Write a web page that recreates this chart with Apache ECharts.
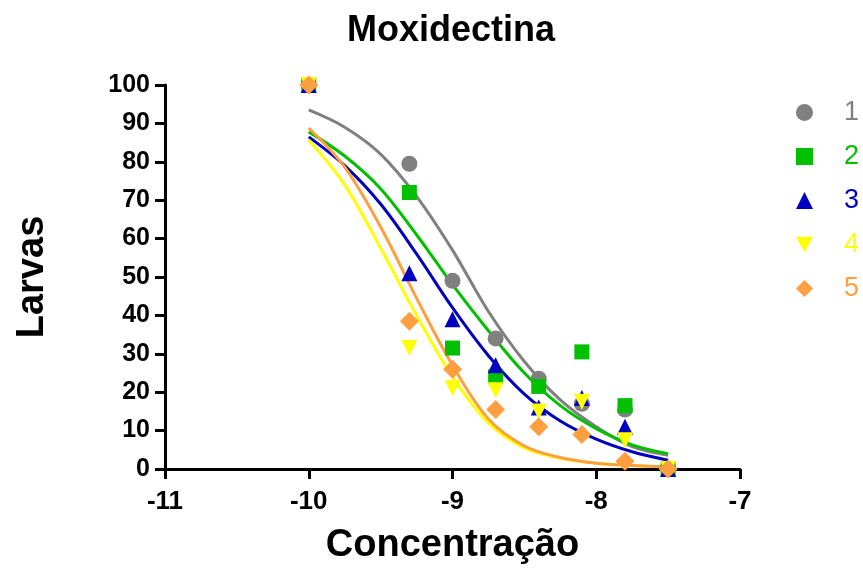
<!DOCTYPE html>
<html lang="pt">
<head>
    <meta charset="UTF-8">
    <title>Moxidectina</title>
    <script src="https://cdn.jsdelivr.net/npm/echarts@6/dist/echarts.min.js"></script>
    <style>
        *{margin:0;padding:0;box-sizing:border-box;}
        html,body{width:863px;height:572px;background:#fff;}
        #main{width:863px;height:572px;}
    </style>
</head>
<body>
<div id="main"></div>
<script>
    // concentrações (log M) dos pontos
    var doses = [-10, -9.3, -9, -8.7, -8.4, -8.1, -7.8, -7.5];
    // larvas (%) por réplica
    var rep1 = [100, 79.5, 49, 34, 23.5, 17, 15.5, 0];
    var rep2 = [100, 72, 31.5, 24, 21.5, 30.5, 16.5, 0];
    var rep3 = [100, 51, 39, 27, 16, 18.5, 11, 0];
    var rep4 = [100, 31.5, 21, 20.5, 15, 17.5, 7.5, 0];
    var rep5 = [100, 38.5, 26, 15.5, 11, 9, 2, 0];

    // curvas ajustadas
    var curveX = [-10, -9.75, -9.5, -9.25, -9, -8.75, -8.5, -8.25, -8, -7.75, -7.5];
    var fit1 = [93.5, 89, 82, 71, 57, 41, 28, 18, 11, 5.8, 3.6];
    var fit2 = [87.8, 81.5, 73, 61, 48, 36, 25, 16.5, 10.5, 6.3, 4];
    var fit3 = [86.5, 79, 69, 56, 42, 29.5, 19.5, 12.5, 7.8, 4.5, 2.3];
    var fit4 = [85.7, 74, 57.5, 40, 24, 12, 5.5, 2.8, 1.5, 0.9, 0.5];
    var fit5 = [88.8, 78.6, 63, 44.5, 27, 13, 6, 3, 1.5, 0.9, 0.5];

    var names = ['1', '2', '3', '4', '5'];
    var colors = ['#808080', '#00c000', '#0000c0', '#ffff00', '#ff9f40'];
    var symbols = ['circle', 'rect', 'triangle', 'path://M0,0 L10,0 L5,9 Z', 'diamond'];
    var sizes = [16, 15, 16, 16, 19];

    var reps = [rep1, rep2, rep3, rep4, rep5];
    var fits = [fit1, fit2, fit3, fit4, fit5];

    function pairs(xs, ys){
        return xs.map(function(x, i){ return [x, ys[i]]; });
    }

    var series = [];
    fits.forEach(function(f, i){
        series.push({
            type: 'line',
            data: pairs(curveX, f),
            smooth: 0.35,
            showSymbol: false,
            silent: true,
            lineStyle: {color: colors[i], width: 3},
            z: 2
        });
    });
    reps.forEach(function(r, i){
        series.push({
            type: 'scatter',
            name: names[i],
            data: pairs(doses, r),
            symbol: symbols[i],
            symbolSize: sizes[i],
            itemStyle: {color: colors[i], opacity: 1},
            z: 3 + i
        });
    });

    var font = '"Liberation Sans", Arial, sans-serif';
    var chart = echarts.init(document.getElementById('main'));
    chart.setOption({
        animation: false,
        title: {
            text: 'Moxidectina',
            left: 342,
            top: 8,
            textStyle: {fontFamily: font, fontSize: 36, fontWeight: 'bold', color: '#000'}
        },
        legend: {
            orient: 'vertical',
            left: 791,
            top: 94,
            itemWidth: 17,
            itemHeight: 17,
            itemGap: 17,
            data: names.map(function(n, i){
                return {name: n, textStyle: {color: colors[i]}};
            }),
            textStyle: {fontFamily: font, fontSize: 27, padding: [0, 0, 0, 26]}
        },
        grid: {left: 165, right: 123, top: 85, bottom: 103},
        xAxis: {
            type: 'value',
            min: -11, max: -7, interval: 1,
            name: 'Concentração',
            nameLocation: 'middle',
            nameGap: 58,
            nameTextStyle: {fontFamily: font, fontSize: 38, fontWeight: 'bold', color: '#000'},
            axisLine: {lineStyle: {color: '#000', width: 3}},
            axisTick: {length: 10, lineStyle: {color: '#000', width: 3}},
            axisLabel: {fontFamily: font, fontSize: 26, fontWeight: 'bold', color: '#000', margin: 20},
            splitLine: {show: false}
        },
        yAxis: {
            type: 'value',
            min: 0, max: 100, interval: 10,
            name: 'Larvas',
            nameLocation: 'middle',
            nameGap: 113,
            nameTextStyle: {fontFamily: font, fontSize: 38, fontWeight: 'bold', color: '#000'},
            axisLine: {show: true, lineStyle: {color: '#000', width: 3}},
            axisTick: {show: true, length: 10, lineStyle: {color: '#000', width: 3}},
            axisLabel: {fontFamily: font, fontSize: 25, fontWeight: 'bold', color: '#000', margin: 15},
            splitLine: {show: false}
        },
        series: series
    });
</script>
</body>
</html>
